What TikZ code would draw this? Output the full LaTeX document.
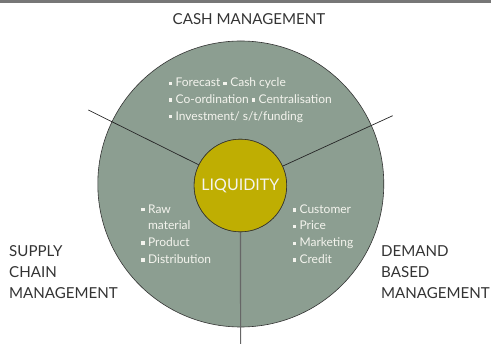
\documentclass[tikz,border=0pt]{standalone}
\usepackage{fontspec}
\setmainfont{Lato}
\definecolor{sage}{HTML}{8C9E91}
\definecolor{olive}{HTML}{BFAE02}
\definecolor{rulegray}{HTML}{777777}
\definecolor{labelgray}{HTML}{333333}
\definecolor{softwhite}{HTML}{F4F4EE}
\newcommand{\sqb}{\raisebox{0.28ex}{\rule{3.4pt}{3.4pt}}\hspace{3.5pt}}
\begin{document}
\begin{tikzpicture}[x=1pt,y=-1pt,
  outerlabel/.style={text=labelgray,font=\fontsize{15.1}{21}\selectfont,inner sep=0pt},
  innertext/.style={text=softwhite,font=\fontsize{12}{16.7}\selectfont,inner sep=0pt,align=left},
  hub/.style={circle,draw=black!80,line width=0.6pt,fill=olive,minimum size=92.6pt,inner sep=0pt,
    text=softwhite,font=\fontsize{16}{16}\selectfont},
  spoke/.style={draw=black!85,line width=0.7pt}]
\useasboundingbox (0,0) rectangle (491,344);
% top rule
\fill[rulegray] (0,0) rectangle (491,2.8);
% outer disc
\node[circle,draw=black!80,line width=0.6pt,fill=sage,minimum size=286pt,inner sep=0pt] (disc) at (240.8,184) {};
% inner disc
\node[hub] (liq) at (240.4,185.5) {};
% spokes
\coordinate (pL) at (88.3,110);
\coordinate (pR) at (392.7,115.7);
\coordinate (pB) at (240.6,344);
\draw[spoke] (liq) -- (pL);
\draw[spoke] (liq) -- (pR);
\draw[draw=black!60,line width=1.1pt] (liq) -- (pB);
\node[hub] at (liq) {LIQUIDITY};
% headings
\node[outerlabel,anchor=center] (cash) at (249,19) {CASH MANAGEMENT};
\node[outerlabel,anchor=west,align=left] (supply) at (9,272.5) {SUPPLY\\CHAIN\\MANAGEMENT};
\node[outerlabel,anchor=west,align=left] (demand) at (381,272.5) {DEMAND\\BASED\\MANAGEMENT};
% bullet lists
\node[innertext,anchor=west] (cashlist) at (168.5,100) {\sqb Forecast \sqb Cash cycle\\\sqb Co-ordination \sqb Centralisation\\\sqb Investment/ s/t/funding};
\node[innertext,anchor=west] (supplylist) at (141,234) {\sqb Raw\\\hphantom{\sqb}material\\\sqb Product\\\sqb Distribution};
\node[innertext,anchor=west] (demandlist) at (292.5,234) {\sqb Customer\\\sqb Price\\\sqb Marketing\\\sqb Credit};
\end{tikzpicture}
\end{document}
